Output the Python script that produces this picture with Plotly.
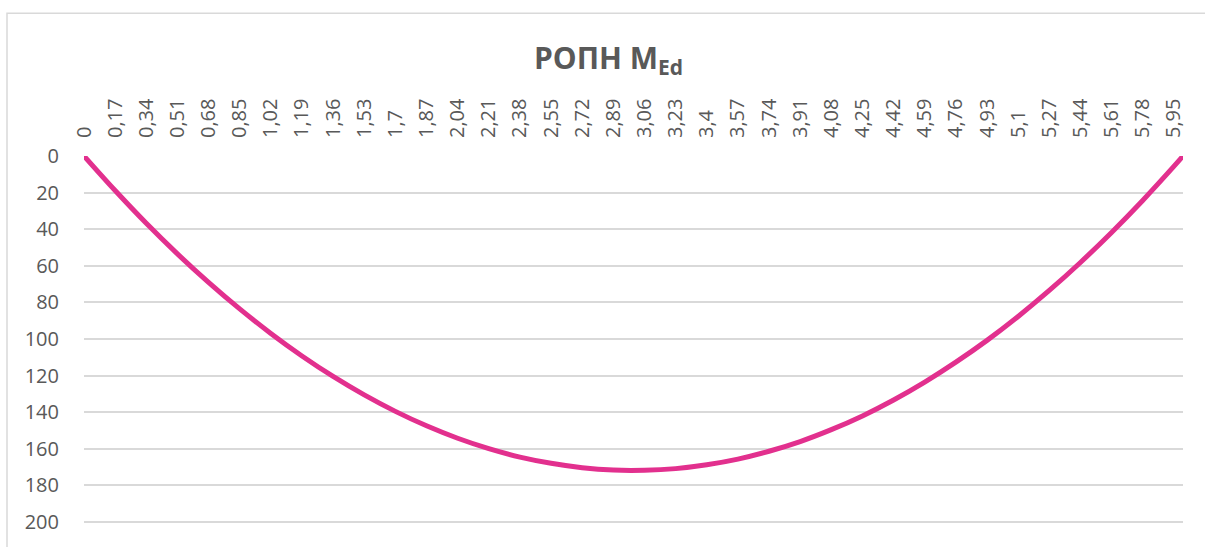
import plotly.graph_objects as go

# Bending moment diagram along the beam (positions in m, moment values)
positions = [0.00, 0.17, 0.34, 0.51, 0.68, 0.85, 1.02, 1.19, 1.36, 1.53,
             1.70, 1.87, 2.04, 2.21, 2.38, 2.55, 2.72, 2.89, 3.06, 3.23,
             3.40, 3.57, 3.74, 3.91, 4.08, 4.25, 4.42, 4.59, 4.76, 4.93,
             5.10, 5.27, 5.44, 5.61, 5.78, 5.95, 6.00]
moment = [0.0, 18.9, 36.8, 53.5, 69.1, 83.6, 97.0, 109.3, 120.5, 130.6,
          139.6, 147.5, 154.3, 160.0, 164.6, 168.0, 170.4, 171.7, 171.8, 170.9,
          168.8, 165.7, 161.4, 156.1, 149.6, 142.1, 133.4, 123.6, 112.7, 100.8,
          87.7, 73.5, 58.2, 41.8, 24.3, 5.7, 0.0]

tick_positions = positions[:-1]
tick_labels = ["0", "0,17", "0,34", "0,51", "0,68", "0,85", "1,02", "1,19", "1,36", "1,53",
               "1,7", "1,87", "2,04", "2,21", "2,38", "2,55", "2,72", "2,89", "3,06", "3,23",
               "3,4", "3,57", "3,74", "3,91", "4,08", "4,25", "4,42", "4,59", "4,76", "4,93",
               "5,1", "5,27", "5,44", "5,61", "5,78", "5,95"]
y_ticks = [0, 20, 40, 60, 80, 100, 120, 140, 160, 180, 200]

TEXT = "#595959"
GRID = "#d9d9d9"
FONT = "Open Sans"

fig = go.Figure()
fig.add_trace(go.Scatter(
    x=positions, y=moment, mode="lines",
    line=dict(color="#E2308E", width=5, shape="spline", smoothing=1),
    hoverinfo="x+y", showlegend=False,
))

fig.update_layout(
    width=1205, height=547,
    margin=dict(l=84, r=22, t=156, b=14),
    paper_bgcolor="white", plot_bgcolor="white",
    font=dict(family=FONT, color=TEXT, size=20),
    title=dict(
        text="<b>ΡΟΠΗ M<sub>Ed</sub></b>",
        x=0.505, xanchor="center", xref="container",
        y=1 - 58 / 547, yanchor="middle", yref="container",
        font=dict(family=FONT, size=30, color=TEXT),
    ),
    xaxis=dict(
        side="top", range=[0, 6.0],
        tickmode="array", tickvals=tick_positions, ticktext=tick_labels,
        tickangle=-90, ticks="outside", ticklen=0, ticklabelstandoff=13,
        showgrid=False, zeroline=False, showline=False,
        tickfont=dict(family=FONT, size=20, color=TEXT),
    ),
    yaxis=dict(
        # padding below 200 keeps its gridline inside the plot area
        range=[205, 0], tickmode="array", tickvals=y_ticks,
        ticks="outside", ticklen=0, ticklabelstandoff=20,
        showgrid=True, gridcolor=GRID, gridwidth=1.5,
        zeroline=False, showline=False,
        tickfont=dict(family=FONT, size=20, color=TEXT),
    ),
    shapes=[dict(
        type="rect", xref="paper", yref="paper",
        x0=(7 - 84) / 1099, x1=(1215 - 84) / 1099,
        y0=(533 - 570) / 377, y1=(533 - 12.5) / 377,
        line=dict(color=GRID, width=1.5), fillcolor="rgba(0,0,0,0)", layer="below",
    )],
)

fig.write_html("out.html")
